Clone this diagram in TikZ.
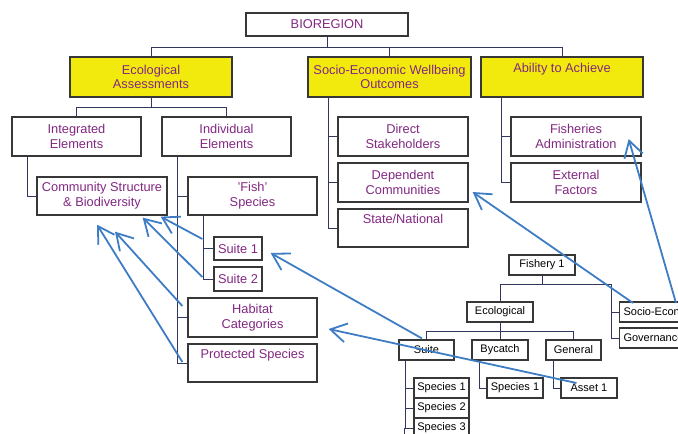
\documentclass[tikz,border=0pt]{standalone}
\usepackage{fontspec}
\setmainfont{Liberation Sans}
\usetikzlibrary{arrows.meta,calc}
\definecolor{txt}{RGB}{130,40,130}
\definecolor{yel}{RGB}{242,234,12}
\definecolor{boxc}{RGB}{55,55,55}
\definecolor{connc}{RGB}{50,55,95}
\definecolor{arrc}{RGB}{62,125,195}
\begin{document}
\begin{tikzpicture}[x=1pt,y=-1pt,
  big/.style={draw=boxc, line width=1.3pt, fill=white, text=txt, font=\fontsize{12.8}{14.7}\selectfont, align=center, inner sep=0pt},
  yelbox/.style={big, fill=yel},
  small/.style={draw=boxc, line width=1.1pt, fill=white, text=black, font=\fontsize{11}{13}\selectfont, inner sep=0pt, minimum height=20pt},
  conn/.style={draw=connc, line width=1pt},
  arr/.style={draw=arrc, line width=1.8pt, -{Straight Barb[length=16pt,width=19pt]}}]
\useasboundingbox (0,0) rectangle (678,434);
\clip (0,0) rectangle (678,434);

% top level
\node[big, minimum width=162pt, minimum height=23pt] (bio) at (327,24.5) {BIOREGION};
\node[yelbox, minimum width=162pt, minimum height=40pt] (eco) at (151,77) {Ecological\\Assessments};
\node[yelbox, minimum width=163pt, minimum height=40pt] (soc) at (389.5,77) {Socio-Economic Wellbeing\\Outcomes};
\node[yelbox, minimum width=162pt, minimum height=40pt] (abl) at (562,77) {Ability to Achieve\\\strut};

% ecological children
\node[big, minimum width=129pt, minimum height=39pt] (integ) at (76.5,136.5) {Integrated\\Elements};
\node[big, minimum width=129pt, minimum height=39pt] (indiv) at (226.5,136.5) {Individual\\Elements};
\node[big, minimum width=130pt, minimum height=38pt] (comm) at (102,196) {Community Structure\\\& Biodiversity};
\node[big, minimum width=129pt, minimum height=38pt] (fish) at (252.5,196) {'Fish'\\Species};
\node[big, minimum width=48pt, minimum height=23pt] (suiteA) at (238,248.5) {Suite 1};
\node[big, minimum width=48pt, minimum height=24pt] (suiteB) at (238,279) {Suite 2};
\node[big, minimum width=129pt, minimum height=39pt] (hab) at (252.5,317.5) {Habitat\\Categories};
\node[big, minimum width=129pt, minimum height=38pt] (prot) at (252.5,363) {Protected Species\\\strut};

% socio children
\node[big, minimum width=130pt, minimum height=39pt] (direct) at (403,136.5) {Direct\\Stakeholders};
\node[big, minimum width=130pt, minimum height=39pt] (dep) at (403,182.5) {Dependent\\Communities};
\node[big, minimum width=130pt, minimum height=38pt] (state) at (403,228) {State/National\\\strut};

% ability children
\node[big, minimum width=130pt, minimum height=39pt] (fadm) at (576,136.5) {Fisheries\\Administration};
\node[big, minimum width=130pt, minimum height=39pt] (ext) at (576,182.5) {External\\Factors};

% fishery subtree
\node[small, minimum width=66pt] (f1) at (542,265) {Fishery 1};
\node[small, minimum width=66pt] (ecol) at (500,312) {Ecological};
\node[small, anchor=west, text width=80pt, align=left, inner xsep=4pt] (soc2) at (619,312) {Socio-Economic};
\node[small, anchor=west, text width=80pt, align=left, inner xsep=4pt] (gov) at (619,338) {Governance};
\node[small, minimum width=55pt] (suite) at (426.5,350) {Suite};
\node[small, minimum width=56pt] (byc) at (500,350) {Bycatch};
\node[small, minimum width=55pt] (gen) at (573.5,350) {General};
\node[small, minimum width=55pt] (spA) at (441.5,388) {Species 1};
\node[small, minimum width=55pt] (spB) at (441.5,408) {Species 2};
\node[small, minimum width=55pt] (spC) at (441.5,428) {Species 3};
\node[small, minimum width=56pt] (bsp) at (515,388) {Species 1};
\node[small, minimum width=56pt] (asset) at (589,388) {Asset 1};

% connectors
\draw[conn] (bio.south) -- ++(0,11) coordinate (bj) -| (eco.north);
\draw[conn] (bj) -| (soc.north);
\draw[conn] (bj) -| (abl.north);
\draw[conn] (eco.south) -- ++(0,10) coordinate (ej) -| (integ.north);
\draw[conn] (ej) -| (indiv.north);
\draw[conn] ([xshift=-49.5pt]integ.south) |- (comm.west);
\draw[conn] ([xshift=-49.5pt]indiv.south) |- (fish.west);
\draw[conn] ([xshift=-49.5pt]indiv.south) |- (hab.west);
\draw[conn] ([xshift=-49.5pt]indiv.south) |- (prot.west);
\draw[conn] ([xshift=-49.5pt]fish.south) |- (suiteA.west);
\draw[conn] ([xshift=-49.5pt]fish.south) |- (suiteB.west);
\draw[conn] ([xshift=-61.5pt]soc.south) |- (direct.west);
\draw[conn] ([xshift=-61.5pt]soc.south) |- (dep.west);
\draw[conn] ([xshift=-61.5pt]soc.south) |- (state.west);
\draw[conn] ([xshift=-61pt]abl.south) |- (fadm.west);
\draw[conn] ([xshift=-61pt]abl.south) |- (ext.west);

\draw[conn] (f1.south) -- ++(0,9) coordinate (fj) -| (ecol.north);
\draw[conn] (fj) -| ([xshift=-8pt]gov.west) -- (gov.west);
\draw[conn] ([xshift=-8pt]soc2.west) -- (soc2.west);
\draw[conn] (ecol.south) -- ++(0,9) coordinate (cj) -| (suite.north);
\draw[conn] (cj) -- (byc.north);
\draw[conn] (cj) -| (gen.north);
\draw[conn] ([xshift=-21.5pt]suite.south) |- (spA.west);
\draw[conn] ([xshift=-21.5pt]suite.south) |- (spB.west);
\draw[conn] ([xshift=-21.5pt]suite.south) |- (spC.west);
\draw[conn] ([xshift=-9pt]spC.west) -- ++(0,12);
\draw[conn] ([xshift=-21pt]byc.south) |- (bsp.west);
\draw[conn] ([xshift=-20.5pt]gen.south) |- (asset.west);

% blue arrows
\draw[arr] ($(soc2.west)+(14,-9)$) -- ($(dep.east)+(4,9.5)$);
\draw[arr] ($(soc2.west)+(57,-9)$) -- ($(fadm.east)+(-13,2.5)$);
\draw[arr] ($(suite.north)+(-4.5,-1)$) -- ($(suiteA.east)+(8,4.5)$);
\draw[arr] ($(asset.west)+(16,-5)$) -- ($(hab.east)+(11,11.5)$);
\draw[arr] ($(suiteA.west)+(-11,-9.5)$) -- ($(comm.south east)+(-7,1)$);
\draw[arr] ($(suiteB.west)+(-11,-2)$) -- ($(comm.south east)+(-25,2)$);
\draw[arr] ($(hab.west)+(-5,-11.5)$) -- ($(comm.south)+(13,16)$);
\draw[arr] ($(prot.west)+(-5,-1)$) -- ($(comm.south)+(-5,9)$);
\end{tikzpicture}
\end{document}
